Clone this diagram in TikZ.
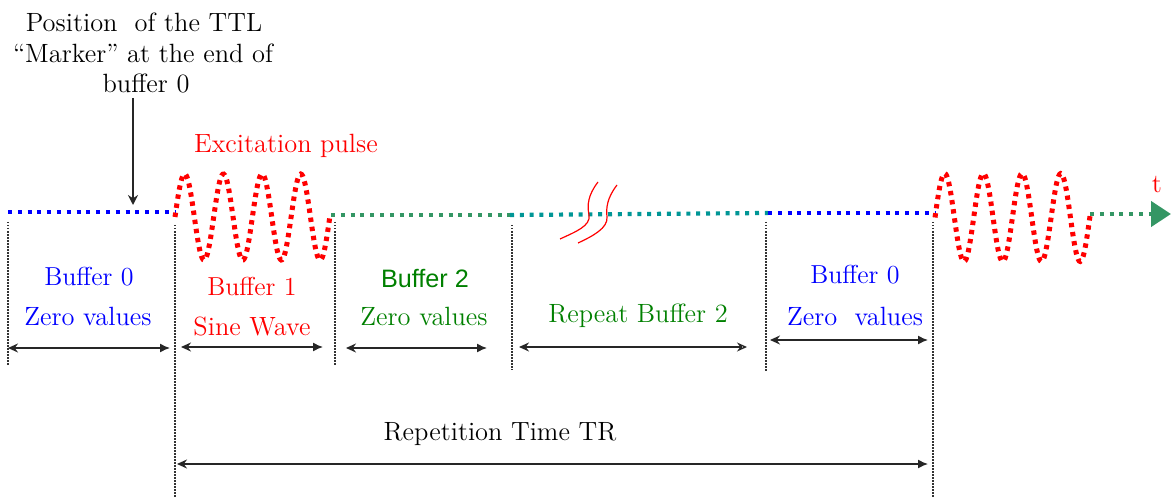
\documentclass[tikz,border=0pt]{standalone}
\usepackage{fontspec}
\newfontfamily\arialf{Liberation Sans}
\usetikzlibrary{arrows.meta}
\definecolor{pblue}{RGB}{0,0,255}
\definecolor{pred}{RGB}{255,0,0}
\definecolor{pgreen}{RGB}{0,128,0}
\definecolor{lgreen}{RGB}{52,150,100}
\definecolor{lteal}{RGB}{0,150,150}
\tikzset{
  sig/.style={line width=2.1pt, dash pattern=on 2pt off 2.9pt},
  wave/.style={pred, line width=2.5pt, dash pattern=on 2.2pt off 2.4pt},
  guide/.style={black!80, line width=0.75pt, dash pattern=on 0.75pt off 0.75pt},
  dim/.style={black!85, line width=0.7pt, {Stealth[length=5pt,width=4.5pt]}-{Latex[length=5pt,width=4.5pt]}},
  pal/.style={font=\fontsize{13.2}{15.5}\selectfont, inner sep=0pt, anchor=base},
  tms/.style={font=\fontsize{13}{15}\selectfont, inner sep=0pt, anchor=base},
  ari/.style={font=\arialf\fontsize{12.6}{15}\selectfont, inner sep=0pt, anchor=base},
  brk/.style={pred, line width=0.6pt}
}
\begin{document}
\begin{tikzpicture}[x=0.5pt,y=-0.5pt]
\useasboundingbox (0,0) rectangle (1171,497);
% guide coordinates
\coordinate (g0t) at (8,222);   \coordinate (g0b) at (8,365);
\coordinate (g1t) at (175,225); \coordinate (g1b) at (175,497);
\coordinate (g2t) at (335,222); \coordinate (g2b) at (335,365);
\coordinate (g3t) at (512,225); \coordinate (g3b) at (512,370);
\coordinate (g4t) at (766,222); \coordinate (g4b) at (766,372);
\coordinate (g5t) at (933,222); \coordinate (g5b) at (933,497);
\foreach \a in {0,...,5} \draw[guide] (g\a t) -- (g\a b);

% signal line
\coordinate (s0) at (8,212);
\coordinate (s1) at (175,212);
\coordinate (s2) at (331,215);
\coordinate (s3) at (510,215);
\coordinate (s4) at (768,213);
\coordinate (s5) at (935,213);
\coordinate (s6) at (1090,214);
\coordinate (s7) at (1171,214);
\draw[sig, pblue] (s0) -- (s1);
\draw[sig, lgreen] (s2) -- (s3);
\draw[sig, lteal] (s3) -- (s4);
\draw[sig, pblue] (s4) -- (s5);
\draw[sig, lgreen, -{Triangle[length=10pt,width=12.5pt]}] (s6) -- (s7);
\draw[wave] plot[domain=175:330, samples=160, smooth] (\x, {217-43*sin(9.3023*(\x-175))});
\draw[wave] plot[domain=935:1090, samples=160, smooth] (\x, {217.5-44*sin(9.3023*(\x-935))});

% break marks
\draw[brk] (598,182) .. controls (588,195) and (587,205) .. (589,215) .. controls (591,226) and (575,232) .. (560,239);
\draw[brk] (617,185) .. controls (607,198) and (606,208) .. (607,217) .. controls (608,228) and (593,236) .. (578,243);

% texts
\node[pal] (m1) at (144,32) {Position \ of the TTL};
\node[pal] (m2) at (143,63) {``Marker'' at the end of};
\node[pal] (m3) at (146,93) {buffer 0};
\coordinate (mk) at (133,205);
\draw[black!85, line width=0.7pt, -{Stealth[length=5pt,width=5pt]}] (m3.south -| mk) ++(0,4) -- (mk);
\node[pal, pred] (exc) at (286,153) {Excitation pulse};
\node[pal, pred] (t) at (1157,192) {t};

\node[tms, pblue] (b0) at (89,285) {Buffer 0};
\node[pal, pblue] (z0) at (88,325) {Zero values};
\node[tms, pred] (b1) at (252,295) {Buffer 1};
\node[pal, pred] (sw) at (252,335) {Sine Wave};
\node[ari, pgreen] (b2) at (425,287) {Buffer 2};
\node[pal, pgreen] (z2) at (424,325) {Zero values};
\node[pal, pgreen] (rb) at (638,322) {Repeat Buffer 2};
\node[tms, pblue] (b0b) at (855,283) {Buffer 0};
\node[pal, pblue] (z0b) at (855,325) {Zero \ values};
\node[pal] (tr) at (500,440) {Repetition Time TR};

% dimension arrows
\draw[dim] (8,348) coordinate (d0a) -- (170,348) coordinate (d0b);
\draw[dim] (181,347) coordinate (d1a) -- (323,347) coordinate (d1b);
\draw[dim] (346,348) coordinate (d2a) -- (487,348) coordinate (d2b);
\draw[black!85, line width=0.7pt, {Stealth[length=5pt,width=4.5pt]}-{Stealth[length=5pt,width=4.5pt,open]}] (519,347) coordinate (d3a) -- (747,347) coordinate (d3b);
\draw[dim] (770,340) coordinate (d4a) -- (928,340) coordinate (d4b);
\draw[dim] (177,464) coordinate (d5a) -- (928,464) coordinate (d5b);
\end{tikzpicture}
\end{document}
